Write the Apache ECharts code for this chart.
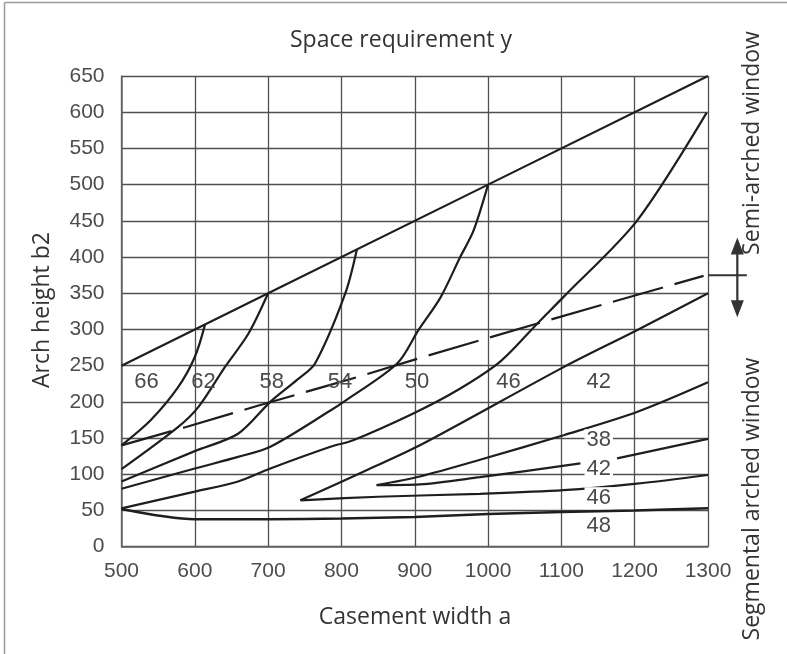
<!DOCTYPE html>
<html><head><meta charset="utf-8">
<script src="https://cdn.jsdelivr.net/npm/echarts@6/dist/echarts.min.js"></script>
<style>html,body{margin:0;padding:0;background:#fff}#c{width:787px;height:654px}</style>
</head><body><div id="c"></div>
<script>
// ---- data ----
const envelope = [[500,250],[700,350],[1000,500],[1300,650]];
const curve66 = [[500,140],[540,175],[577,220],[600,262],[614,307]];
const curve62 = [[500,107],[577,165],[605,193],[641,248],[673,294],[700,350]];
const curve58 = [[500,90],[600,132],[659,156],[703,200],[739,230],[764,253],[805,349],[821,410]];
const curve54 = [[500,80],[600,108],[659,124],[703,138],[785,188],[803,200],[876,253],[905,299],[935,344],[962,400],[980,436],[1000,500]];
const curve50 = [[500,53],[600,76],[659,90],[703,108],[785,138],[816,147],[898,184],[958,216],[1017,256],[1067,308],[1103,345],[1203,450],[1298,599]];
const v1Upper = [[744,64],[835,106],[907,140],[1103,248],[1203,299],[1300,350]];
const v1Lower = [[744,64],[850,69],[989,73],[1103,78],[1203,87],[1300,99]];
const v2Upper = [[848,85],[907,97],[989,120],[1103,154],[1203,186],[1300,227]];
const v2Lower = [[848,85],[907,86],[989,96],[1126,115],[1151,'-'],[1176,122],[1300,149]];
const curve48 = [[500,52],[600,38],[700,38],[800,39],[900,41],[1000,45],[1100,48],[1200,50],[1300,53]];
const dashed = [[500,140],[587,165],[687,195],[773,220],[821,234],[905,260],[989,285],[1090,315],[1294,374]];
const upperLabels = [['66',534,227],['62',612,227],['58',705,227],['54',798,227],['50',903,227],['46',1028,227],['42',1151,227]];
const lowerLabels = [['38',1151,147],['42',1151,108],['46',1151,67],['48',1151,28]];
const markerBar = [[1300,375],[1353,375]];
const markerArrow = [[1340,427],[1340,317]];

const TICK_FONT = 'Liberation Sans';
const TITLE_FONT = 'Open Sans';

function curve(data, extra) {
  return Object.assign({
    type: 'line', data: data, showSymbol: false, smooth: 0.3,
    silent: true, z: 3,
    lineStyle: { color: '#1e1e1e', width: 2.2 }
  }, extra || {});
}
function labelSeries(list, bg) {
  return {
    type: 'scatter', silent: true, z: 6, symbol: 'rect', symbolSize: 1,
    itemStyle: { color: '#fff', opacity: 1 },
    data: list.map(d => ({ name: d[0], value: [d[1], d[2]] })),
    label: {
      show: true, position: 'inside', formatter: '{b}', color: '#4a4a4a', opacity: 1,
      fontSize: 22, fontFamily: TICK_FONT, backgroundColor: bg, padding: [0, 2]
    }
  };
}

const chart = echarts.init(document.getElementById('c'), null, { renderer: 'canvas' });
const axisCommon = {
  type: 'value',
  axisLine: { show: true, lineStyle: { color: '#666', width: 1.5 } },
  axisTick: { show: false },
  splitLine: { show: true, lineStyle: { color: '#505050', width: 1.3 } }
};
chart.setOption({
  animation: false,
  backgroundColor: '#fff',
  grid: { left: 121.5, right: 79, top: 76, bottom: 107.3, containLabel: false },
  xAxis: Object.assign({}, axisCommon, {
    min: 500, max: 1300, interval: 100,
    axisLabel: { fontSize: 21, color: '#4d4d4d', fontFamily: TICK_FONT, margin: 14, formatter: v => String(v) }
  }),
  yAxis: Object.assign({}, axisCommon, {
    min: 0, max: 650, interval: 50,
    axisLabel: { fontSize: 21, color: '#4d4d4d', fontFamily: TICK_FONT, margin: 17, formatter: v => String(v) }
  }),
  series: [
    curve(envelope, { smooth: false }),
    curve(curve66), curve(curve62), curve(curve58), curve(curve54), curve(curve50),
    curve(v1Upper), curve(v1Lower), curve(v2Upper), curve(v2Lower, { connectNulls: false }),
    curve(curve48, { lineStyle: { color: '#1e1e1e', width: 2.5 } }),
    curve(dashed, { smooth: false, lineStyle: { color: '#1e1e1e', width: 2.2, type: [52, 12] } }),
    labelSeries(upperLabels, 'transparent'),
    labelSeries(lowerLabels, '#fff')
  ]
});

// annotation marker (bar + double arrow) placed through the chart's own scales
const toPx = p => chart.convertToPixel({ gridIndex: 0 }, p);
const b0 = toPx(markerBar[0]), b1 = toPx(markerBar[1]);
const aTop = toPx(markerArrow[0]), aBot = toPx(markerArrow[1]);
const headH = 17, headW = 6.5;
const textStyle = (t) => ({ text: t, align: 'center', verticalAlign: 'middle', fontSize: 23, fontFamily: TITLE_FONT, fill: '#333' });
chart.setOption({
  graphic: [
    { type: 'line', shape: { x1: 4.5, y1: 2.5, x2: 787, y2: 2.5 }, style: { stroke: '#999', lineWidth: 1.5 }, silent: true },
    { type: 'line', shape: { x1: 4.5, y1: 2.5, x2: 4.5, y2: 654 }, style: { stroke: '#999', lineWidth: 1.5 }, silent: true },
    { type: 'line', shape: { x1: b0[0], y1: b0[1], x2: b1[0], y2: b1[1] }, style: { stroke: '#333', lineWidth: 2 }, silent: true },
    { type: 'line', shape: { x1: aTop[0], y1: aTop[1] + headH - 2, x2: aBot[0], y2: aBot[1] - headH + 2 }, style: { stroke: '#333', lineWidth: 2.2 }, silent: true },
    { type: 'polygon', shape: { points: [[aTop[0], aTop[1]], [aTop[0] - headW, aTop[1] + headH], [aTop[0] + headW, aTop[1] + headH]] }, style: { fill: '#333' }, silent: true },
    { type: 'polygon', shape: { points: [[aBot[0], aBot[1]], [aBot[0] - headW, aBot[1] - headH], [aBot[0] + headW, aBot[1] - headH]] }, style: { fill: '#333' }, silent: true },
    { type: 'text', x: 401, y: 40, silent: true, style: textStyle('Space requirement y') },
    { type: 'text', x: 415, y: 617, silent: true, style: textStyle('Casement width a') },
    { type: 'text', x: 42, y: 310, rotation: Math.PI / 2, silent: true, style: textStyle('Arch height b2') },
    { type: 'text', x: 752, y: 143, rotation: Math.PI / 2, silent: true, style: textStyle('Semi-arched window') },
    { type: 'text', x: 752, y: 499, rotation: Math.PI / 2, silent: true, style: textStyle('Segmental arched window') }
  ]
});
</script>
</body></html>
